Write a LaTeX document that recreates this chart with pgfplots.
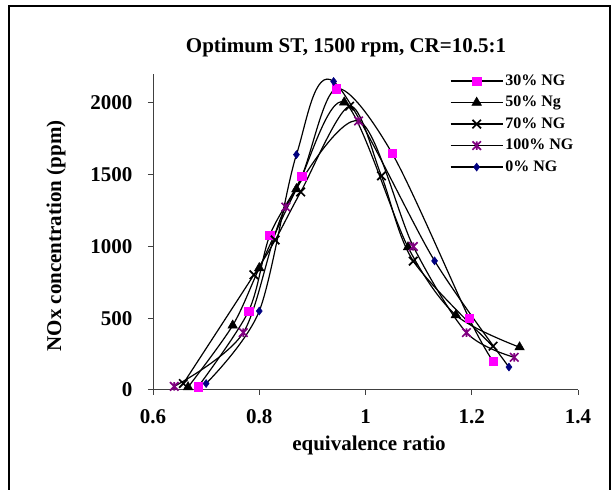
\documentclass[border=0pt]{standalone}
\usepackage{fontspec}
\setmainfont{Liberation Serif}
\usepackage{pgfplots}
\pgfplotsset{compat=1.18}
\definecolor{ngmag}{HTML}{FF00FF}
\definecolor{ngnavy}{HTML}{000080}
\definecolor{ngpurp}{HTML}{800080}
\pgfdeclareplotmark{xstar}{%
  \pgfpathmoveto{\pgfqpoint{-.7071\pgfplotmarksize}{-.7071\pgfplotmarksize}}%
  \pgfpathlineto{\pgfqpoint{.7071\pgfplotmarksize}{.7071\pgfplotmarksize}}%
  \pgfpathmoveto{\pgfqpoint{-.7071\pgfplotmarksize}{.7071\pgfplotmarksize}}%
  \pgfpathlineto{\pgfqpoint{.7071\pgfplotmarksize}{-.7071\pgfplotmarksize}}%
  \pgfpathmoveto{\pgfqpoint{0pt}{-.7071\pgfplotmarksize}}%
  \pgfpathlineto{\pgfqpoint{0pt}{.7071\pgfplotmarksize}}%
  \pgfusepathqstroke}
\begin{document}
\begin{tikzpicture}[x=1pt,y=1pt]
\useasboundingbox (0,0) rectangle (616,490);
\draw[line width=1.5pt] (9,0) -- (9,484) -- (610,484) -- (610,0);
\begin{axis}[
  at={(153pt,100pt)}, anchor=south west,
  scale only axis, width=425pt, height=315.7pt,
  xmin=0.6, xmax=1.4, ymin=0, ymax=2200,
  xtick={0.6,0.8,1,1.2,1.4}, ytick={0,500,1000,1500,2000},
  scaled y ticks=false,
  axis x line*=bottom, axis y line*=left,
  axis line style={line width=1pt, black!75, -},
  tick style={line width=1pt, black!75},
  tick align=outside, major tick length=5pt,
  /pgf/number format/assume math mode=true,
  /pgf/number format/1000 sep={},
  tick label style={font=\fontsize{21}{21}\selectfont\bfseries},
  xticklabel style={yshift=-11.5pt},
  yticklabel style={xshift=-12pt},
  legend style={at={(0.699,1.007)}, anchor=north west, draw=none, fill=none,
    inner sep=0pt, outer sep=0pt,
    font=\fontsize{16}{16}\selectfont\bfseries,
    nodes={text height=11pt, text depth=3pt, inner sep=2pt},
    row sep=3.5pt},
  legend cell align=left,
  legend image code/.code={\draw[mark repeat=2,mark phase=2,#1] plot coordinates {(0pt,0pt) (26pt,0pt) (52pt,0pt)};},
]
\addplot[black, line width=1.2pt, smooth, mark=square*, mark size=4.2pt, mark options={solid, draw=ngmag, fill=ngmag, line width=0.5pt}] coordinates {
(0.685,23) (0.78,550) (0.82,1080) (0.88,1490) (0.945,2100) (1.05,1650) (1.195,500) (1.24,200)};
\addlegendentry{30\% NG}
\addplot[black, line width=1.2pt, smooth, mark=triangle*, mark size=5.5pt, mark options={solid, draw=black, fill=black, line width=0.5pt}] coordinates {
(0.666,20) (0.75,450) (0.80,850) (0.87,1400) (0.96,2005) (1.08,995) (1.17,522) (1.29,298)};
\addlegendentry{50\% Ng}
\addplot[black, line width=1.2pt, smooth, mark=x, mark size=6pt, mark options={solid, draw=black, line width=1.7pt}] coordinates {
(0.657,45) (0.79,803) (0.83,1045) (0.878,1380) (0.97,1978) (1.03,1492) (1.09,898) (1.24,305)};
\addlegendentry{70\% NG}
\addplot[black, line width=1.2pt, smooth, mark=xstar, mark size=6pt, mark options={solid, draw=ngpurp, line width=1.7pt}] coordinates {
(0.64,25) (0.77,400) (0.85,1275) (0.987,1875) (1.09,1000) (1.19,400) (1.28,228)};
\addlegendentry{100\% NG}
\addplot[black, line width=1.2pt, smooth, mark=diamond*, mark size=4pt, mark options={solid, draw=ngnavy, fill=ngnavy, line width=0.5pt}] coordinates {
(0.70,45) (0.80,550) (0.87,1640) (0.94,2150) (1.13,900) (1.27,160)};
\addlegendentry{0\% NG}
\end{axis}
\node[font=\fontsize{21}{21}\selectfont\bfseries] at (346,443) {Optimum ST, 1500 rpm, CR=10.5:1};
\node[font=\fontsize{21}{21}\selectfont\bfseries] at (369,45) {equivalence ratio};
\node[font=\fontsize{21}{21}\selectfont\bfseries, rotate=90] at (56,254) {NOx concentration (ppm)};
\end{tikzpicture}
\end{document}
